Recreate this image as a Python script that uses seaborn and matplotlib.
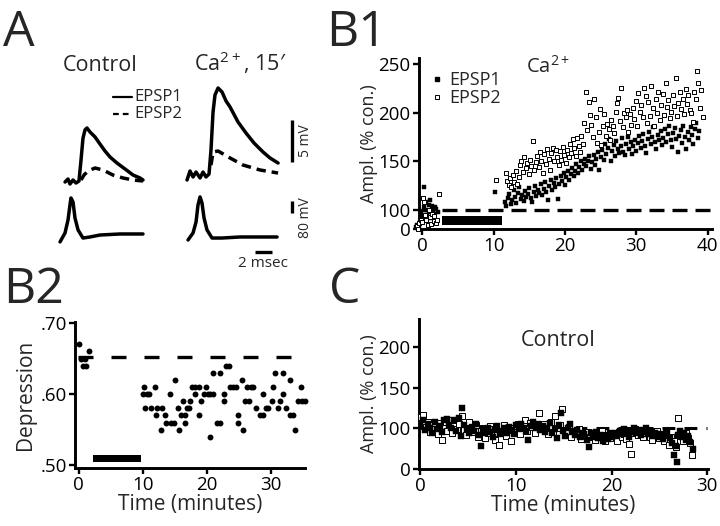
import numpy as np
import pandas as pd
import matplotlib
matplotlib.use("Agg")
import matplotlib.pyplot as plt
import seaborn as sns
from matplotlib.patches import Rectangle
from matplotlib.lines import Line2D

# ---------------- DATA ----------------
# Panel A traces (time in ms, voltage in mV)
ctrl_epsp1_ms = [1.18, 1.53, 1.76, 2.12, 2.47, 2.82, 3.06, 3.29, 3.53, 3.76, 4.12, 4.71, 5.29, 5.88, 6.47, 7.29, 8.24, 9.18, 10.0, 10.35]
ctrl_epsp1_mv = [0.0, 0.36, -0.24, 0.24, -0.12, 0.12, 2.6, 5.2, 6.2, 6.43, 5.95, 5.36, 4.52, 3.69, 2.98, 2.26, 1.55, 0.83, 0.48, 0.24]
ctrl_epsp2_ms = [3.06, 3.41, 3.88, 4.71, 5.65, 6.82, 8.0, 9.18, 10.35]
ctrl_epsp2_mv = [0.24, 0.83, 1.31, 1.67, 1.43, 0.83, 0.48, 0.24, 0.12]
ca_epsp1_ms = [15.53, 15.88, 16.24, 16.59, 17.06, 17.41, 17.76, 18.12, 18.35, 18.59, 18.82, 19.18, 19.65, 20.12, 20.59, 21.53, 22.47, 23.41, 24.47, 25.29, 26.24]
ca_epsp1_mv = [0.24, 1.31, 0.6, 1.19, 0.48, 1.19, 0.6, 0.95, 3.81, 8.33, 10.36, 11.19, 10.71, 9.64, 8.93, 7.14, 5.83, 4.64, 3.57, 2.86, 2.26]
ca_epsp2_ms = [18.35, 18.59, 19.18, 20.59, 22.12, 24.12, 26.24]
ca_epsp2_mv = [2.02, 3.57, 3.69, 2.86, 2.02, 1.43, 1.07]
ctrl_ap_ms = [0.59, 1.18, 1.53, 1.76, 1.88, 2.12, 2.35, 2.71, 3.29, 4.12, 5.29, 7.65, 10.35]
ctrl_ap_mv = [-33, 27, 113, 213, 260, 233, 127, 47, -7, 0, 13, 20, 20]
ca_ap_ms = [15.65, 16.24, 16.59, 16.82, 17.06, 17.29, 17.53, 17.88, 18.47, 19.65, 21.76, 26.12]
ca_ap_mv = [-20, 27, 100, 213, 267, 227, 127, 47, -7, -7, 0, 0]

# Panel B1 (Ca2+): time (min), amplitude (% control)
b1_t1 = [-0.9, -0.7, -0.5, -0.3, -0.1, 0.1, 0.2, 0.3, 0.5, 0.6, 0.7, 0.9, 1.0, 1.1, 1.3, 1.4, 1.5, 1.7, 1.8, 2.0, 2.2,
         10.2, 11.6, 11.8, 12.0, 12.2, 12.4, 12.6, 12.8, 13.0, 13.2, 13.4, 13.6, 13.8, 14.0, 14.2, 14.4, 14.6, 14.8,
         15.0, 15.2, 15.4, 15.6, 15.8, 16.0, 16.2, 16.4, 16.6, 16.8, 17.0, 17.2, 17.4, 17.6, 17.8, 18.0, 18.2, 18.4,
         18.6, 18.8, 19.0, 19.2, 19.4, 19.6, 19.8, 20.0, 20.2, 20.4, 20.6, 20.8, 21.0, 21.2, 21.4, 21.6, 21.8, 22.0,
         22.2, 22.4, 22.6, 22.8, 23.0, 23.2, 23.4, 23.6, 23.8, 24.0, 24.2, 24.4, 24.6, 24.8, 25.0, 25.2, 25.4, 25.6,
         25.8, 26.0, 26.2, 26.4, 26.6, 26.8, 27.0, 27.2, 27.4, 27.6, 27.8, 28.0, 28.2, 28.4, 28.6, 28.8, 29.0, 29.2,
         29.4, 29.6, 29.8, 30.0, 30.2, 30.4, 30.6, 30.8, 31.0, 31.2, 31.4, 31.6, 31.8, 32.0, 32.2, 32.4, 32.6, 32.8,
         33.0, 33.2, 33.4, 33.6, 33.8, 34.0, 34.2, 34.4, 34.6, 34.8, 35.0, 35.2, 35.4, 35.6, 35.8, 36.0, 36.2, 36.4,
         36.6, 36.8, 37.0, 37.2, 37.4, 37.6, 37.8, 38.0, 38.2, 38.4, 38.6, 38.8]
b1_v1 = [83, 85, 82, 88, 96, 92, 124, 103, 100, 108, 95, 105, 98, 110, 92, 104, 100, 96, 103, 101, 98,
         119, 108, 104, 112, 117, 106, 110, 121, 113, 107, 118, 124, 111, 115, 109, 120, 113, 117,
         123, 112, 108, 119, 125, 114, 121, 118, 127, 116, 122, 129, 119, 110, 125, 131, 121, 128,
         124, 133, 111, 127, 135, 130, 138, 126, 134, 140, 131, 137, 143, 135, 140, 147, 138, 144,
         150, 141, 147, 153, 145, 151, 156, 142, 149, 157, 146, 153, 160, 141, 155, 162, 152, 168,
         158, 164, 173, 150, 161, 167, 156, 171, 163, 159, 166, 174, 160, 157, 168, 175, 163, 170,
         158, 166, 172, 161, 169, 176, 164, 171, 178, 166, 159, 173, 180, 168, 175, 185, 170, 163,
         177, 172, 181, 167, 174, 183, 170, 178, 186, 172, 165, 179, 184, 173, 160, 176, 182, 169,
         187, 175, 163, 180, 172, 185, 177, 168, 183, 190, 174, 181]
b1_t2 = [-0.8, -0.6, -0.4, -0.2, 0.0, 0.1, 0.3, 0.4, 0.6, 0.8, 0.9, 1.1, 1.2, 1.4, 1.6, 1.7, 1.9, 2.1, 2.3,
         10.4, 11.7, 11.9, 12.1, 12.3, 12.5, 12.7, 12.9, 13.1, 13.3, 13.5, 13.7, 13.9, 14.1, 14.3, 14.5, 14.7, 14.9,
         15.1, 15.3, 15.5, 15.7, 15.9, 16.1, 16.3, 16.5, 16.7, 16.9, 17.1, 17.3, 17.5, 17.7, 17.9, 18.1, 18.3, 18.5,
         18.7, 18.9, 19.1, 19.3, 19.5, 19.7, 19.9, 20.1, 20.3, 20.5, 20.7, 20.9, 21.1, 21.3, 21.5, 21.7, 21.9, 22.1,
         22.3, 22.5, 22.7, 22.9, 23.1, 23.3, 23.5, 23.7, 23.9, 24.1, 24.3, 24.5, 24.7, 24.9, 25.1, 25.3, 25.5, 25.7,
         25.9, 26.1, 26.3, 26.5, 26.7, 26.9, 27.1, 27.3, 27.5, 27.7, 27.9, 28.1, 28.3, 28.5, 28.7, 28.9, 29.1, 29.3,
         29.5, 29.7, 29.9, 30.1, 30.3, 30.5, 30.7, 30.9, 31.1, 31.3, 31.5, 31.7, 31.9, 32.1, 32.3, 32.5, 32.7, 32.9,
         33.1, 33.3, 33.5, 33.7, 33.9, 34.1, 34.3, 34.5, 34.7, 34.9, 35.1, 35.3, 35.5, 35.7, 35.9, 36.1, 36.3, 36.5,
         36.7, 36.9, 37.1, 37.3, 37.5, 37.7, 37.9, 38.1, 38.3, 38.5, 38.7, 38.9, 39.1, 39.3]
b1_v2 = [84, 81, 87, 90, 88, 112, 108, 95, 90, 85, 100, 93, 86, 96, 89, 94, 87, 90, 117,
         131, 138, 130, 126, 133, 124, 136, 129, 140, 127, 134, 146, 150, 139, 155, 143, 148, 137,
         152, 145, 171, 141, 149, 156, 144, 160, 151, 138, 158, 147, 163, 153, 141, 159, 164, 150,
         162, 155, 146, 161, 152, 165, 157, 148, 162, 155, 168, 159, 173, 164, 156, 174, 166, 160,
         176, 168, 190, 221, 182, 211, 198, 188, 175, 214, 196, 169, 180, 204, 167, 186, 199, 176,
         189, 183, 172, 193, 187, 179, 201, 210, 215, 192, 226, 185, 200, 196, 203, 180, 199, 188,
         205, 194, 212, 186, 220, 201, 208, 196, 226, 217, 190, 211, 197, 228, 205, 186, 214, 200,
         221, 193, 208, 219, 198, 231, 206, 213, 195, 201, 218, 207, 236, 197, 210, 221, 204, 214,
         199, 225, 209, 218, 203, 200, 191, 222, 214, 243, 231, 205, 224, 196]

# Panel B2: depression ratio vs time
b2_t = [0.0, 0.3, 0.6, 0.9, 1.1, 1.6,
        10.0, 10.2, 10.4, 10.6, 10.9, 11.3, 11.9, 12.0, 12.2, 12.8, 13.0, 13.5, 13.6, 14.2, 14.4, 14.9, 15.0,
        15.5, 15.7, 15.9, 16.2, 16.6, 16.6, 16.9, 17.2, 17.4, 17.7, 18.2, 18.2, 18.7, 18.7, 19.1, 19.5, 19.9,
        20.1, 20.5, 20.5, 20.9, 21.0, 21.5, 22.0, 22.1, 22.6, 22.7, 23.0, 23.5, 23.6, 24.1, 24.6, 24.8, 24.9,
        25.4, 25.7, 26.0, 26.3, 26.5, 26.8, 27.2, 27.7, 28.2, 28.7, 28.8, 29.2, 29.6, 30.1, 30.3, 30.6, 31.1,
        31.4, 31.8, 31.9, 32.3, 32.9, 33.0, 33.4, 33.7, 34.2, 34.7, 34.9, 35.3]
b2_v = [0.67, 0.65, 0.64, 0.65, 0.64, 0.66,
        0.60, 0.61, 0.58, 0.60, 0.60, 0.58, 0.61, 0.57, 0.58, 0.55, 0.58, 0.57, 0.56, 0.60, 0.56, 0.56, 0.62,
        0.58, 0.55, 0.57, 0.59, 0.57, 0.56, 0.58, 0.58, 0.59, 0.61, 0.61, 0.60, 0.61, 0.57, 0.59, 0.60, 0.61,
        0.60, 0.60, 0.54, 0.60, 0.63, 0.56, 0.56, 0.63, 0.60, 0.59, 0.64, 0.64, 0.61, 0.61, 0.61, 0.56, 0.57,
        0.62, 0.55, 0.59, 0.61, 0.59, 0.61, 0.61, 0.58, 0.57, 0.57, 0.60, 0.58, 0.58, 0.59, 0.61, 0.63, 0.58,
        0.59, 0.63, 0.60, 0.58, 0.62, 0.57, 0.57, 0.55, 0.59, 0.61, 0.59, 0.59]

# Panel C (control): time (min), amplitude (% control, axis break below 100)
c_t1 = [0.0, 0.25, 0.5, 0.75, 1.0, 1.25, 1.5, 1.75, 2.0, 2.25, 2.5, 2.75, 3.0, 3.25, 3.5, 3.75, 4.0, 4.25, 4.4,
        4.6, 4.85, 5.1, 5.35, 5.6, 5.85, 6.1, 6.3, 6.55, 6.8, 7.05, 7.3, 7.55, 7.8, 8.05, 8.3, 8.55, 8.8, 9.05,
        9.3, 9.55, 9.8, 10.05, 10.3, 10.55, 10.8, 11.05, 11.3, 11.55, 11.8, 12.05, 12.3, 12.55, 12.8, 13.05,
        13.3, 13.55, 13.8, 14.05, 14.3, 14.55, 14.7, 14.9, 15.15, 15.4, 15.65, 15.9, 16.15, 16.4, 16.65, 16.9,
        17.15, 17.4, 17.6, 17.85, 18.1, 18.35, 18.6, 18.85, 19.1, 19.35, 19.6, 19.85, 20.1, 20.35, 20.6, 20.85,
        21.1, 21.35, 21.6, 21.85, 22.1, 22.35, 22.6, 22.85, 23.1, 23.35, 23.6, 23.85, 24.1, 24.35, 24.6, 24.85,
        25.1, 25.35, 25.6, 25.85, 26.1, 26.3, 26.5, 26.7, 26.85, 27.0, 27.2, 27.4, 27.6, 27.8, 28.0, 28.25, 28.5]
c_v1 = [104, 110, 98, 106, 101, 95, 108, 99, 103, 96, 110, 112, 104, 100, 111, 97, 113, 91, 125,
        104, 99, 94, 102, 97, 105, 92, 78, 99, 94, 101, 96, 90, 98, 103, 93, 97, 100, 95,
        102, 98, 93, 104, 99, 106, 101, 97, 86, 103, 108, 100, 105, 98, 103, 96,
        101, 107, 94, 99, 88, 104, 119, 97, 91, 100, 106, 96, 92, 98, 89, 95,
        93, 86, 77, 94, 90, 96, 88, 92, 85, 91, 87, 94, 89, 95, 91, 97,
        93, 99, 95, 90, 96, 101, 94, 98, 92, 96, 100, 93, 97, 91, 95, 89,
        93, 87, 92, 96, 88, 82, 67, 78, 59, 92, 97, 89, 94, 86, 91, 83, 75]
c_t2 = [0.05, 0.3, 0.55, 0.8, 1.05, 1.3, 1.55, 1.8, 2.05, 2.3, 2.55, 2.8, 3.05, 3.3, 3.55, 3.8, 4.05, 4.3,
        4.55, 4.8, 5.05, 5.3, 5.55, 5.8, 6.05, 6.3, 6.55, 6.8, 7.05, 7.3, 7.55, 7.8, 8.05, 8.2, 8.45, 8.7, 8.95,
        9.2, 9.45, 9.7, 9.95, 10.2, 10.45, 10.7, 10.95, 11.2, 11.45, 11.7, 11.95, 12.2, 12.4, 12.65, 12.9, 13.15,
        13.4, 13.65, 13.9, 14.1, 14.35, 14.6, 14.8, 15.05, 15.3, 15.55, 15.8, 16.05, 16.3, 16.55, 16.8, 17.05,
        17.3, 17.55, 17.8, 18.05, 18.3, 18.55, 18.8, 19.05, 19.3, 19.55, 19.8, 20.05, 20.3, 20.55, 20.8, 21.05,
        21.3, 21.55, 21.8, 22.0, 22.25, 22.5, 22.75, 23.0, 23.25, 23.5, 23.75, 24.0, 24.25, 24.5, 24.75, 25.0,
        25.25, 25.5, 25.75, 26.0, 26.25, 26.5, 26.75, 27.0, 27.25, 27.5, 27.75, 28.0, 28.2, 28.4]
c_v2 = [114, 117, 102, 108, 96, 104, 99, 93, 107, 86, 101, 97, 110, 95, 103, 99, 106, 115,
        98, 92, 108, 100, 96, 104, 90, 97, 101, 88, 95, 103, 99, 86, 94, 80, 97, 104, 91,
        98, 85, 101, 96, 105, 93, 100, 110, 97, 107, 102, 95, 104, 119, 99, 106, 101,
        93, 108, 96, 115, 100, 104, 124, 98, 95, 102, 90, 97, 93, 99, 87, 94,
        91, 96, 89, 93, 86, 95, 90, 97, 84, 92, 88, 94, 91, 85, 96, 90,
        93, 87, 81, 69, 95, 99, 92, 96, 89, 94, 98, 90, 86, 93, 97, 88,
        92, 85, 94, 80, 89, 84, 77, 113, 91, 84, 95, 88, 82, 67]

b1_yticks = [80.5, 100, 150, 200, 250]
b1_yticklabels = ["0", "100", "150", "200", "250"]
b2_yticks = [0.50, 0.60, 0.70]
b2_yticklabels = [".50", ".60", ".70"]
c_yticks = [50, 100, 150, 200]
c_yticklabels = ["0", "100", "150", "200"]

# ---------------- STYLE ----------------
sns.set_theme(style="white")
plt.rcParams["font.family"] = ["Open Sans", "DejaVu Sans"]
plt.rcParams["mathtext.fontset"] = "custom"
plt.rcParams["mathtext.rm"] = "Open Sans"
plt.rcParams["mathtext.default"] = "regular"

W, H = 720, 526
fig = plt.figure(figsize=(7.2, 5.26), dpi=100)


def box(l, t, r, b):
    return [l / W, 1 - b / H, (r - l) / W, (b - t) / H]


def fx(x):
    return x / W


def fy(y):
    return 1 - y / H


def style_axes(ax):
    for s in ["top", "right"]:
        ax.spines[s].set_visible(False)
    for s in ["left", "bottom"]:
        ax.spines[s].set_linewidth(2.1)
        ax.spines[s].set_color("black")
    ax.tick_params(axis="both", which="both", bottom=True, left=True, direction="out",
                   length=4, width=1.7, colors="black", labelsize=13.5, pad=2)


TRACE_LW = 2.5
DASH_TRACE = (0, (2.7, 1.7))

# ---------------- PANEL A ----------------
axA = fig.add_axes(box(55, 80, 325, 190))
axA.set_xlim(0, 31.76)
axA.set_ylim(-0.95, 12.14)
axA.axis("off")
axAP = fig.add_axes(box(55, 190, 325, 270))
axAP.set_xlim(0, 31.76)
axAP.set_ylim(-220, 313)
axAP.axis("off")

sns.lineplot(x=ctrl_epsp1_ms, y=ctrl_epsp1_mv, ax=axA, color="black", lw=TRACE_LW, sort=False, estimator=None)
sns.lineplot(x=ctrl_epsp2_ms, y=ctrl_epsp2_mv, ax=axA, color="black", lw=TRACE_LW, sort=False, estimator=None,
             linestyle=DASH_TRACE)
sns.lineplot(x=ca_epsp1_ms, y=ca_epsp1_mv, ax=axA, color="black", lw=TRACE_LW, sort=False, estimator=None)
sns.lineplot(x=ca_epsp2_ms, y=ca_epsp2_mv, ax=axA, color="black", lw=TRACE_LW, sort=False, estimator=None,
             linestyle=DASH_TRACE)
sns.lineplot(x=ctrl_ap_ms, y=ctrl_ap_mv, ax=axAP, color="black", lw=TRACE_LW, sort=False, estimator=None)
sns.lineplot(x=ca_ap_ms, y=ca_ap_mv, ax=axAP, color="black", lw=TRACE_LW, sort=False, estimator=None)

# scale bars
axA.plot([27.9, 27.9], [2.4, 7.4], color="black", lw=2.4, solid_capstyle="butt")
axA.text(29.5, 4.9, "5 mV", rotation=90, ha="center", va="center", fontsize=10)
axAP.plot([27.9, 27.9], [160, 240], color="black", lw=2.4, solid_capstyle="butt")
axAP.text(29.5, 127, "80 mV", rotation=90, ha="center", va="center", fontsize=10)
axAP.plot([23.5, 25.5], [-100, -100], color="black", lw=2.4, solid_capstyle="butt")
axAP.text(24.5, -175, "2 msec", ha="center", va="center", fontsize=11)

fig.text(fx(100), fy(71), "Control", ha="center", va="baseline", fontsize=15.5)
fig.text(fx(240), fy(71), "Ca$^{2+}$, 15\u2032", ha="center", va="baseline", fontsize=15.5)

fig.add_artist(Line2D([fx(113), fx(132)], [fy(97), fy(97)], transform=fig.transFigure, color="black", lw=1.6))
fig.add_artist(Line2D([fx(113), fx(132)], [fy(114), fy(114)], transform=fig.transFigure, color="black", lw=1.6,
                      linestyle=(0, (2.6, 1.8))))
fig.text(fx(134), fy(97), "EPSP1", ha="left", va="center", fontsize=12)
fig.text(fx(134), fy(114), "EPSP2", ha="left", va="center", fontsize=12)

# ---------------- PANEL B1 ----------------
axB1 = fig.add_axes(box(419, 58, 712, 229))
style_axes(axB1)
axB1.set_xlim(-0.45, 40.6)
axB1.set_ylim(80.5, 256.5)
axB1.hlines(100, -0.5, 40.5, colors="black", lw=2.4, linestyles=[(0, (4.5, 2.4))], zorder=1)
axB1.add_patch(Rectangle((2.8, 85), 8.4, 9, color="black", lw=0, zorder=2))
sns.scatterplot(x=b1_t1, y=b1_v1, ax=axB1, marker="s", s=12, color="black", edgecolor="black",
                linewidth=0.3, clip_on=False, zorder=3, legend=False)
sns.scatterplot(x=b1_t2, y=b1_v2, ax=axB1, marker="s", s=12, color="white", edgecolor="black",
                linewidth=0.7, clip_on=False, zorder=4, legend=False)
axB1.set_xticks([0, 10, 20, 30, 40])
axB1.set_yticks(b1_yticks)
axB1.set_yticklabels(b1_yticklabels)
axB1.set_ylabel("Ampl. (% con.)", fontsize=13, labelpad=0)
axB1.text(0.44, 0.95, "Ca$^{2+}$", transform=axB1.transAxes, ha="center", va="center", fontsize=14.5)
h1 = Line2D([], [], marker="s", ls="", color="black", markersize=3.4)
h2 = Line2D([], [], marker="s", ls="", markerfacecolor="white", markeredgecolor="black", markersize=3.4,
            markeredgewidth=0.7)
axB1.legend([h1, h2], ["EPSP1", "EPSP2"], loc="upper left", bbox_to_anchor=(0.02, 0.965), frameon=False,
            fontsize=13, handlelength=0.6, handletextpad=0.35, labelspacing=0.0, borderaxespad=0)

# ---------------- PANEL B2 ----------------
axB2 = fig.add_axes(box(75, 322, 305, 468))
style_axes(axB2)
axB2.set_xlim(-0.6, 35.3)
axB2.set_ylim(0.496, 0.7015)
axB2.hlines(0.652, -0.2, 33.7, colors="black", lw=2.4, linestyles=[(0, (4.5, 5.4))], zorder=1)
axB2.add_patch(Rectangle((2.2, 0.504), 7.5, 0.011, color="black", lw=0, zorder=2))
sns.scatterplot(x=b2_t, y=b2_v, ax=axB2, marker="o", s=18, color="black", linewidth=0, zorder=3,
                clip_on=False, legend=False)
axB2.set_xticks([0, 10, 20, 30])
axB2.set_yticks(b2_yticks)
axB2.set_yticklabels(b2_yticklabels)
axB2.set_xlabel("Time (minutes)", fontsize=15, labelpad=0)
axB2.set_ylabel("Depression", fontsize=15, labelpad=3)

# ---------------- PANEL C ----------------
axC = fig.add_axes(box(419, 319, 708, 469))
style_axes(axC)
axC.set_xlim(-0.15, 30.1)
axC.set_ylim(50, 235)
axC.hlines(100, 0, 30, colors="black", lw=2.2, linestyles=[(0, (4.2, 3.0))], zorder=1)
sns.scatterplot(x=c_t2, y=c_v2, ax=axC, marker="s", s=16, color="white", edgecolor="black",
                linewidth=0.7, zorder=3, legend=False)
sns.scatterplot(x=c_t1, y=c_v1, ax=axC, marker="s", s=16, color="black", edgecolor="black",
                linewidth=0.3, zorder=4, legend=False)
axC.set_xticks([0, 10, 20, 30])
axC.set_yticks(c_yticks)
axC.set_yticklabels(c_yticklabels)
axC.set_xlabel("Time (minutes)", fontsize=15, labelpad=0)
axC.set_ylabel("Ampl. (% con.)", fontsize=13, labelpad=0)
axC.text(0.48, 0.86, "Control", transform=axC.transAxes, ha="center", va="center", fontsize=15.5)

# ---------------- PANEL LETTERS ----------------
fig.text(fx(3), fy(46), "A", ha="left", va="baseline", fontsize=36)
fig.text(fx(326), fy(46), "B1", ha="left", va="baseline", fontsize=36)
fig.text(fx(3), fy(303), "B2", ha="left", va="baseline", fontsize=36)
fig.text(fx(329), fy(303), "C", ha="left", va="baseline", fontsize=36)

fig.savefig("out.png", dpi=100, facecolor="white")
